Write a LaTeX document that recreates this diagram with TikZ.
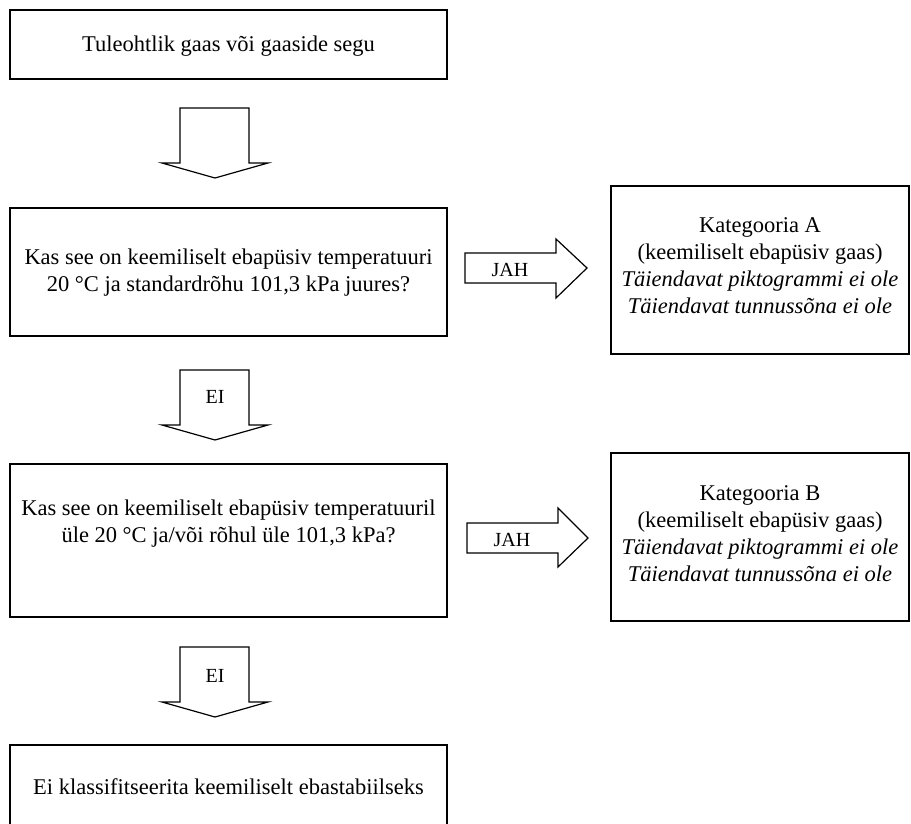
\documentclass[tikz,border=0pt]{standalone}
\usepackage{fontspec}
\setmainfont{Liberation Serif}
\newcommand{\itl}[1]{{\itshape #1}}
\begin{document}
\begin{tikzpicture}[x=1pt,y=-1pt,
  box/.style={draw,line width=1.2pt,inner sep=0pt},
  txt/.style={align=center,font=\fontsize{22.5}{27}\selectfont,inner sep=0pt},
  lbl/.style={font=\fontsize{20}{24}\selectfont,inner sep=0pt},
  blk/.style={draw,line width=1.2pt,fill=white,line join=miter}]
\useasboundingbox (0,0) rectangle (911,823);
% boxes
\node[box,minimum width=437pt,minimum height=69pt] (b1) at (228.5,44.5) {};
\node[txt] (t1) at (228.5,46) {Tuleohtlik gaas või gaaside segu};
\node[box,minimum width=437pt,minimum height=128pt] (b2) at (228.5,272) {};
\node[txt] (t2) at (228.5,273) {Kas see on keemiliselt ebapüsiv temperatuuri\\20 °C ja standardrõhu 101,3 kPa juures?};
\node[box,minimum width=437pt,minimum height=153pt] (b3) at (228.5,540.5) {};
\node[txt] (t3) at (228.5,524) {Kas see on keemiliselt ebapüsiv temperatuuril\\üle 20 °C ja/või rõhul üle 101,3 kPa?};
\node[box,minimum width=298pt,minimum height=168pt] (bA) at (760,270) {};
\node[txt] (tA) at (760,266) {Kategooria A\\(keemiliselt ebapüsiv gaas)\\\itl{Täiendavat piktogrammi ei ole}\\\itl{Täiendavat tunnussõna ei ole}};
\node[box,minimum width=298pt,minimum height=168pt] (bB) at (760,537) {};
\node[txt] (tB) at (760,534) {Kategooria B\\(keemiliselt ebapüsiv gaas)\\\itl{Täiendavat piktogrammi ei ole}\\\itl{Täiendavat tunnussõna ei ole}};
% last box, open at the bottom edge
\coordinate (b4tl) at (10,745);
\coordinate (b4tr) at (447,745);
\draw[line width=1.2pt] (10,824) -- (b4tl) -- (b4tr) -- (447,824);
\node[txt] (t4) at (228.5,787) {Ei klassifitseerita keemiliselt ebastabiilseks};
% down block arrows
\draw[blk] (180,108) -- (249,108) -- (249,163) -- (268,163) -- (215,178) -- (162,163) -- (180,163) -- cycle;
\draw[blk] (180,370) -- (249,370) -- (249,425) -- (268,425) -- (215,440) -- (162,425) -- (180,425) -- cycle;
\node[lbl] (ei1) at (215,397) {EI};
\draw[blk] (180,647) -- (249,647) -- (249,702) -- (268,702) -- (215,717) -- (162,702) -- (180,702) -- cycle;
\node[lbl] (ei2) at (215,676) {EI};
% right block arrows
\draw[blk] (465,253) -- (556,253) -- (556,239) -- (587,268) -- (556,298) -- (556,283) -- (465,283) -- cycle;
\node[lbl] (j1) at (510,270) {JAH};
\draw[blk] (467,523) -- (558,523) -- (558,508) -- (588,538) -- (558,567) -- (558,553) -- (467,553) -- cycle;
\node[lbl] (j2) at (512,540) {JAH};
\end{tikzpicture}
\end{document}
